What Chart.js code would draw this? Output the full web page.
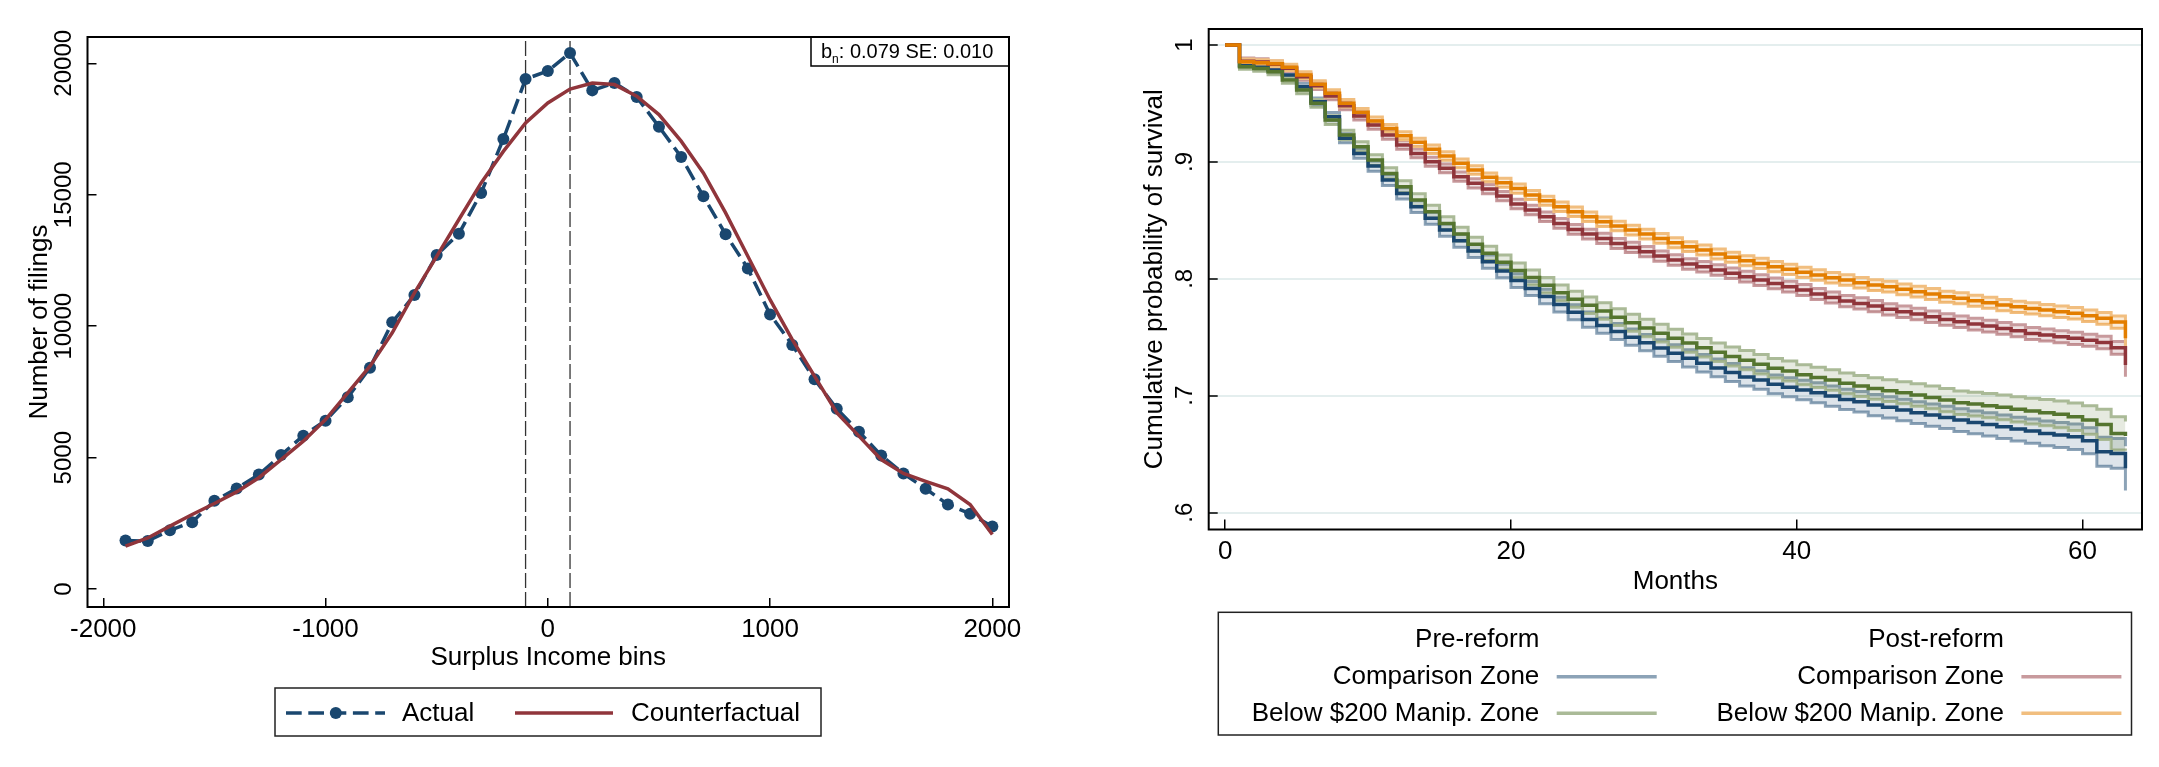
<!DOCTYPE html>
<html>
<head>
<meta charset="utf-8">
<title>Bunching and survival</title>
<script src="https://cdn.jsdelivr.net/npm/chart.js@4.4.1/dist/chart.umd.min.js"></script>
<style>
  html, body { margin: 0; padding: 0; background: #fff; }
  body { width: 2159px; height: 767px; position: relative; overflow: hidden; }
  canvas { position: absolute; top: 0; }
  #left { left: 0; width: 1080px; height: 767px; }
  #right { left: 1080px; width: 1079px; height: 767px; }
</style>
</head>
<body>
<canvas id="left" width="1080" height="767"></canvas>
<canvas id="right" width="1079" height="767"></canvas>
<script>
const FONT = '"Liberation Sans", Arial, Helvetica, sans-serif';
Chart.defaults.font.family = FONT;
Chart.defaults.color = '#000';

// ---- left panel: filings by surplus income bin
const bins = [-1900, -1800, -1700, -1600, -1500, -1400, -1300, -1200, -1100, -1000,
              -900, -800, -700, -600, -500, -400, -300, -200, -100, 0,
              100, 200, 300, 400, 500, 600, 700, 800, 900, 1000,
              1100, 1200, 1300, 1400, 1500, 1600, 1700, 1800, 1900, 2000];
const actual = [1850, 1830, 2240, 2550, 3360, 3830, 4360, 5100, 5840, 6410,
                7300, 8420, 10150, 11190, 12710, 13520, 15070, 17120, 19400, 19710,
                20390, 18970, 19250, 18720, 17590, 16440, 14940, 13500, 12200, 10450,
                9290, 7980, 6860, 5985, 5085, 4400, 3820, 3220, 2870, 2380];
const counterfactual = [1640, 1950, 2400, 2840, 3260, 3700, 4240, 4930, 5630, 6450,
                        7470, 8480, 9750, 11270, 12660, 14060, 15450, 16650, 17730, 18490,
                        19020, 19250, 19190, 18750, 18050, 17040, 15830, 14310, 12660, 11010,
                        9490, 8100, 6710, 5820, 4930, 4400, 4100, 3820, 3220, 2080];
const cutoffs = [-100, 100];
const binTicks = [-2000, -1000, 0, 1000, 2000];
const filingTicks = [0, 5000, 10000, 15000, 20000];
const filingLabels = ['0', '5000', '10000', '15000', '20000'];
const LX = [-2071, 2075];
const LY = [-677, 21000];

// ---- right panel: survival curves by month
const months = [0, 1, 2, 3, 4, 5, 6, 7, 8, 9,
                10, 11, 12, 13, 14, 15, 16, 17, 18, 19,
                20, 21, 22, 23, 24, 25, 26, 27, 28, 29,
                30, 31, 32, 33, 34, 35, 36, 37, 38, 39,
                40, 41, 42, 43, 44, 45, 46, 47, 48, 49,
                50, 51, 52, 53, 54, 55, 56, 57, 58, 59,
                60, 61, 62, 63];
const preComp = [1.0, .9823, .9809, .9786, .9743, .9644, .9515, .9387, .9202, .9073,
                 .8965, .8845, .8731, .8617, .8518, .8417, .8326, .8238, .8147, .8067,
                 .7985, .7918, .7848, .7780, .7715, .7652, .7600, .7550, .7501, .7454,
                 .7408, .7364, .7320, .7278, .7238, .7199, .7161, .7134, .7098, .7073,
                 .7049, .7026, .6997, .6969, .6949, .6920, .6901, .6878, .6855, .6835,
                 .6815, .6792, .6772, .6755, .6735, .6715, .6698, .6678, .6664, .6649,
                 .6615, .6521, .6507, .6379];
const preCompCI = [0, .002, .0022, .0024, .0026, .0029, .0032, .0035, .0038, .0041,
                   .0044, .0046, .0048, .005, .0052, .0053, .0055, .0056, .0057, .0058,
                   .0059, .006, .0062, .0063, .0064, .0065, .0066, .0068, .0069, .007,
                   .0071, .0072, .0073, .0074, .0076, .0077, .0078, .0079, .008, .0081,
                   .0083, .0085, .0086, .0087, .0088, .009, .0091, .0092, .0093, .0095,
                   .0096, .0097, .0098, .01, .0101, .0102, .0104, .0105, .0107, .0109,
                   .0112, .0125, .0128, .019];
const preBelow = [1.0, .9815, .9800, .9772, .9701, .9615, .9501, .9358, .9230, .9130,
                  .9016, .8902, .8788, .8674, .8574, .8474, .8383, .8295, .8218, .8141,
                  .8072, .8012, .7945, .7880, .7826, .7774, .7725, .7672, .7625, .7579,
                  .7535, .7492, .7451, .7411, .7372, .7335, .7304, .7269, .7235, .7212,
                  .7180, .7157, .7134, .7106, .7083, .7063, .7043, .7026, .7006, .6986,
                  .6963, .6940, .6929, .6915, .6901, .6884, .6869, .6855, .6841, .6821,
                  .6792, .6755, .6678, .6655];
const preBelowCI = [0, .0022, .0024, .0026, .0028, .0031, .0034, .0037, .004, .0043,
                    .0046, .0049, .0051, .0053, .0055, .0057, .0059, .006, .0061, .0062,
                    .0063, .0064, .0066, .0067, .0068, .007, .0071, .0072, .0073, .0075,
                    .0076, .0077, .0078, .0079, .008, .0081, .0082, .0083, .0084, .0085,
                    .0086, .0087, .0088, .0089, .009, .0092, .0093, .0094, .0096, .0097,
                    .0099, .01, .0102, .0104, .0106, .0108, .011, .0112, .0115, .0118,
                    .0122, .013, .0143, .0125];
const postComp = [1.0, .9862, .9855, .9835, .9801, .9729, .9652, .9564, .9481, .9393,
                  .9316, .9230, .9145, .9073, .9002, .8945, .8874, .8817, .8768, .8708,
                  .8640, .8589, .8531, .8474, .8423, .8383, .8346, .8303, .8269, .8232,
                  .8195, .8161, .8127, .8104, .8075, .8047, .8018, .7990, .7961, .7933,
                  .7904, .7870, .7840, .7810, .7790, .7767, .7739, .7719, .7699, .7676,
                  .7653, .7633, .7613, .7596, .7576, .7556, .7533, .7519, .7505, .7491,
                  .7475, .7455, .7410, .7263];
const postCompCI = [0, .0026, .0027, .0028, .0029, .003, .0032, .0033, .0034, .0035,
                    .0036, .0036, .0037, .0037, .0038, .0038, .0039, .0039, .004, .004,
                    .0041, .0041, .0041, .0042, .0042, .0042, .0043, .0043, .0043, .0044,
                    .0044, .0044, .0045, .0045, .0045, .0045, .0046, .0046, .0046, .0046,
                    .0047, .0047, .0047, .0048, .0048, .0048, .0048, .0049, .0049, .0049,
                    .0049, .005, .005, .005, .005, .0051, .0051, .0051, .0052, .0052,
                    .0052, .0053, .0055, .01];
const postBelow = [1.0, .9857, .9849, .9840, .9809, .9743, .9664, .9587, .9501, .9424,
                   .9350, .9287, .9224, .9168, .9108, .9050, .8988, .8931, .8868, .8822,
                   .8772, .8717, .8668, .8617, .8574, .8531, .8489, .8452, .8417, .8383,
                   .8346, .8309, .8275, .8246, .8212, .8184, .8155, .8132, .8104, .8081,
                   .8056, .8033, .8010, .7990, .7967, .7947, .7933, .7910, .7890, .7870,
                   .7847, .7833, .7813, .7796, .7776, .7761, .7747, .7733, .7719, .7705,
                   .7685, .7662, .7630, .7491];
const postBelowCI = [0, .0024, .0025, .0026, .0027, .0029, .003, .0031, .0032, .0033,
                     .0034, .0034, .0035, .0035, .0036, .0036, .0037, .0037, .0038, .0038,
                     .0039, .0039, .0039, .004, .004, .004, .0041, .0041, .0041, .0042,
                     .0042, .0042, .0042, .0043, .0043, .0043, .0043, .0044, .0044, .0044,
                     .0044, .0045, .0045, .0045, .0045, .0046, .0046, .0046, .0046, .0047,
                     .0047, .0047, .0047, .0047, .0048, .0048, .0048, .0048, .0049, .0049,
                     .0049, .005, .0052, .008];
const monthTicks = [0, 20, 40, 60];
const survTicks = [0.6, 0.7, 0.8, 0.9, 1];
const survLabels = ['.6', '.7', '.8', '.9', '1'];
const RX = [-1.155, 64.16];
const RY = [0.5856, 1.0137];

const NAVY = '#1a476f', MAROON = '#90353b', FOREST = '#55752f', DKORANGE = '#e37e00';

const pts = (xs, ys) => xs.map((x, i) => ({ x: x, y: ys[i] }));

// frame round the plot region
const framePlugin = {
  id: 'frame',
  afterDraw(chart) {
    const { ctx, chartArea: a } = chart;
    ctx.save();
    ctx.strokeStyle = '#000';
    ctx.lineWidth = 2;
    ctx.strokeRect(a.left, a.top, a.right - a.left, a.bottom - a.top);
    ctx.restore();
  }
};

// stata style y labels, turned 90 degrees
function yLabelPlugin(ticks, labels) {
  return {
    id: 'ylabels',
    afterDraw(chart) {
      const { ctx, chartArea, scales } = chart;
      ctx.save();
      ctx.font = '24px ' + FONT;
      ctx.fillStyle = '#000';
      ctx.textAlign = 'center';
      ctx.textBaseline = 'alphabetic';
      ticks.forEach((v, i) => {
        ctx.save();
        ctx.translate(chartArea.left - 17, scales.y.getPixelForValue(v));
        ctx.rotate(-Math.PI / 2);
        ctx.fillText(labels[i], 0, 0);
        ctx.restore();
      });
      ctx.restore();
    }
  };
}

function xScale(range, ticks, height, title, titlePad, tickLen, tickPad) {
  return {
    type: 'linear', min: range[0], max: range[1],
    afterBuildTicks: s => { s.ticks = ticks.map(v => ({ value: v })); },
    afterFit: s => { s.height = height; },
    border: { display: false },
    grid: { drawOnChartArea: false, tickLength: tickLen, color: '#000', lineWidth: 1.5 },
    ticks: { font: { size: 26 }, color: '#000', padding: tickPad, maxRotation: 0, autoSkip: false,
             callback: v => String(v) },
    title: { display: true, text: title, font: { size: 26 }, color: '#000',
             padding: { top: 0, bottom: titlePad } }
  };
}

// ---------------- left chart ----------------
const leftDecor = {
  id: 'leftDecor',
  afterDraw(chart) {
    const ctx = chart.ctx;
    ctx.save();
    // estimate box, top right
    ctx.strokeStyle = '#000';
    ctx.lineWidth = 1.5;
    ctx.strokeRect(811, 37, 198, 29);
    ctx.fillStyle = '#000';
    ctx.textBaseline = 'alphabetic';
    ctx.textAlign = 'left';
    let x = 821;
    ctx.font = '20px ' + FONT;
    ctx.fillText('b', x, 58);
    x += ctx.measureText('b').width;
    ctx.font = '12px ' + FONT;
    ctx.fillText('n', x, 63);
    x += ctx.measureText('n').width;
    ctx.font = '20px ' + FONT;
    ctx.fillText(': 0.079 SE: 0.010', x, 58);

    // legend
    ctx.lineWidth = 1.5;
    ctx.strokeStyle = '#222';
    ctx.strokeRect(275, 688, 546, 48);
    ctx.strokeStyle = NAVY;
    ctx.lineWidth = 3.5;
    ctx.setLineDash([15.7, 6.6]);
    ctx.beginPath(); ctx.moveTo(286, 713); ctx.lineTo(385, 713); ctx.stroke();
    ctx.setLineDash([]);
    ctx.fillStyle = NAVY;
    ctx.beginPath(); ctx.arc(335.8, 713, 6, 0, Math.PI * 2); ctx.fill();
    ctx.strokeStyle = MAROON;
    ctx.beginPath(); ctx.moveTo(515, 713); ctx.lineTo(613, 713); ctx.stroke();
    ctx.fillStyle = '#000';
    ctx.font = '26px ' + FONT;
    ctx.textBaseline = 'middle';
    ctx.fillText('Actual', 402, 713.5);
    ctx.fillText('Counterfactual', 631, 713.5);
    ctx.restore();
  }
};

new Chart(document.getElementById('left'), {
  type: 'line',
  data: {
    datasets: [
      { label: 'Counterfactual', data: pts(bins, counterfactual), borderColor: MAROON,
        borderWidth: 3.5, pointRadius: 0, fill: false, order: 0 },
      { label: 'Actual', data: pts(bins, actual), borderColor: NAVY, borderWidth: 3.5,
        borderDash: [15.7, 6.6], pointRadius: 6, pointBackgroundColor: NAVY,
        pointBorderWidth: 0, fill: false, order: 1 }
    ].concat(cutoffs.map(c => ({
      label: 'cutoff', data: [{ x: c, y: LY[0] }, { x: c, y: LY[1] }],
      borderColor: '#333', borderWidth: 1.3, borderDash: [15, 4], pointRadius: 0,
      fill: false, order: 2
    })))
  },
  options: {
    responsive: false, animation: false, devicePixelRatio: 1, events: [],
    layout: { padding: { left: 0, right: 71, top: 37, bottom: 0 } },
    plugins: { legend: { display: false }, tooltip: { enabled: false } },
    scales: {
      x: xScale(LX, binTicks, 160, 'Surplus Income bins', 94, -9, 16),
      y: {
        type: 'linear', min: LY[0], max: LY[1],
        afterBuildTicks: s => { s.ticks = filingTicks.map(v => ({ value: v })); },
        afterFit: s => { s.width = 87.5; },
        border: { display: false },
        grid: { drawOnChartArea: false, tickLength: -9, color: '#000', lineWidth: 1.5 },
        ticks: { display: false },
        title: { display: true, text: 'Number of filings', font: { size: 26 }, color: '#000',
                 padding: { top: 24.4, bottom: 0 } }
      }
    }
  },
  plugins: [framePlugin, yLabelPlugin(filingTicks, filingLabels), leftDecor]
});

// ---------------- right chart ----------------
const survSeries = [
  { est: preComp, ci: preCompCI, dark: NAVY, light: '#8ca3b7', fill: 'rgba(26,71,111,0.15)' },
  { est: preBelow, ci: preBelowCI, dark: FOREST, light: '#aaba97', fill: 'rgba(85,117,47,0.15)' },
  { est: postComp, ci: postCompCI, dark: MAROON, light: '#c89a9d', fill: 'rgba(144,53,59,0.15)' },
  { est: postBelow, ci: postBelowCI, dark: DKORANGE, light: '#f1be7f', fill: 'rgba(227,126,0,0.15)' }
];

const survSets = [];
survSeries.forEach((s, k) => {
  const lowIdx = survSets.length;
  survSets.push({ data: months.map((m, i) => ({ x: m, y: s.est[i] - s.ci[i] })),
                  borderColor: s.light, borderWidth: 3, stepped: true, pointRadius: 0,
                  fill: false, order: 20 - 2 * k });
  survSets.push({ data: months.map((m, i) => ({ x: m, y: s.est[i] + s.ci[i] })),
                  borderColor: s.light, borderWidth: 3, stepped: true, pointRadius: 0,
                  fill: lowIdx, backgroundColor: s.fill, order: 19 - 2 * k });
});
survSeries.forEach((s, k) => {
  survSets.push({ data: pts(months, s.est), borderColor: s.dark, borderWidth: 3.5,
                  stepped: true, pointRadius: 0, fill: false, order: 8 - k });
});

const rightLegend = {
  id: 'rightLegend',
  afterDraw(chart) {
    const ctx = chart.ctx;
    ctx.save();
    ctx.strokeStyle = '#222';
    ctx.lineWidth = 1.5;
    ctx.strokeRect(138.3, 612.3, 913.2, 122.7);
    ctx.fillStyle = '#000';
    ctx.font = '26px ' + FONT;
    ctx.textAlign = 'right';
    ctx.textBaseline = 'middle';
    const cols = [{ textX: 459.3, lineX: 476.7, head: 'Pre-reform', s: [survSeries[0], survSeries[1]] },
                  { textX: 924, lineX: 941.4, head: 'Post-reform', s: [survSeries[2], survSeries[3]] }];
    const names = ['Comparison Zone', 'Below $200 Manip. Zone'];
    const rows = [676.7, 713.3];
    cols.forEach(c => {
      ctx.fillText(c.head, c.textX, 639.5);
      c.s.forEach((s, r) => {
        ctx.fillText(names[r], c.textX, rows[r] + 0.5);
        ctx.strokeStyle = s.light;
        ctx.lineWidth = 3.5;
        ctx.beginPath(); ctx.moveTo(c.lineX, rows[r]); ctx.lineTo(c.lineX + 100, rows[r]); ctx.stroke();
      });
    });
    ctx.restore();
  }
};

new Chart(document.getElementById('right'), {
  type: 'line',
  data: { datasets: survSets },
  options: {
    responsive: false, animation: false, devicePixelRatio: 1, events: [],
    layout: { padding: { left: 0, right: 17, top: 29, bottom: 0 } },
    plugins: { legend: { display: false }, tooltip: { enabled: false } },
    scales: {
      x: xScale(RX, monthTicks, 237.5, 'Months', 169.7, -10, 17),
      y: {
        type: 'linear', min: RY[0], max: RY[1],
        afterBuildTicks: s => { s.ticks = survTicks.map(v => ({ value: v })); },
        afterFit: s => { s.width = 128.7; },
        border: { display: false },
        grid: { drawOnChartArea: true, tickLength: -9, color: '#e4eeee', lineWidth: 2,
                tickColor: '#000', tickWidth: 1.5 },
        ticks: { display: false },
        title: { display: true, text: 'Cumulative probability of survival', font: { size: 26 },
                 color: '#000', padding: { top: 58.9, bottom: 0 } }
      }
    }
  },
  plugins: [framePlugin, yLabelPlugin(survTicks, survLabels), rightLegend]
});
</script>
</body>
</html>
